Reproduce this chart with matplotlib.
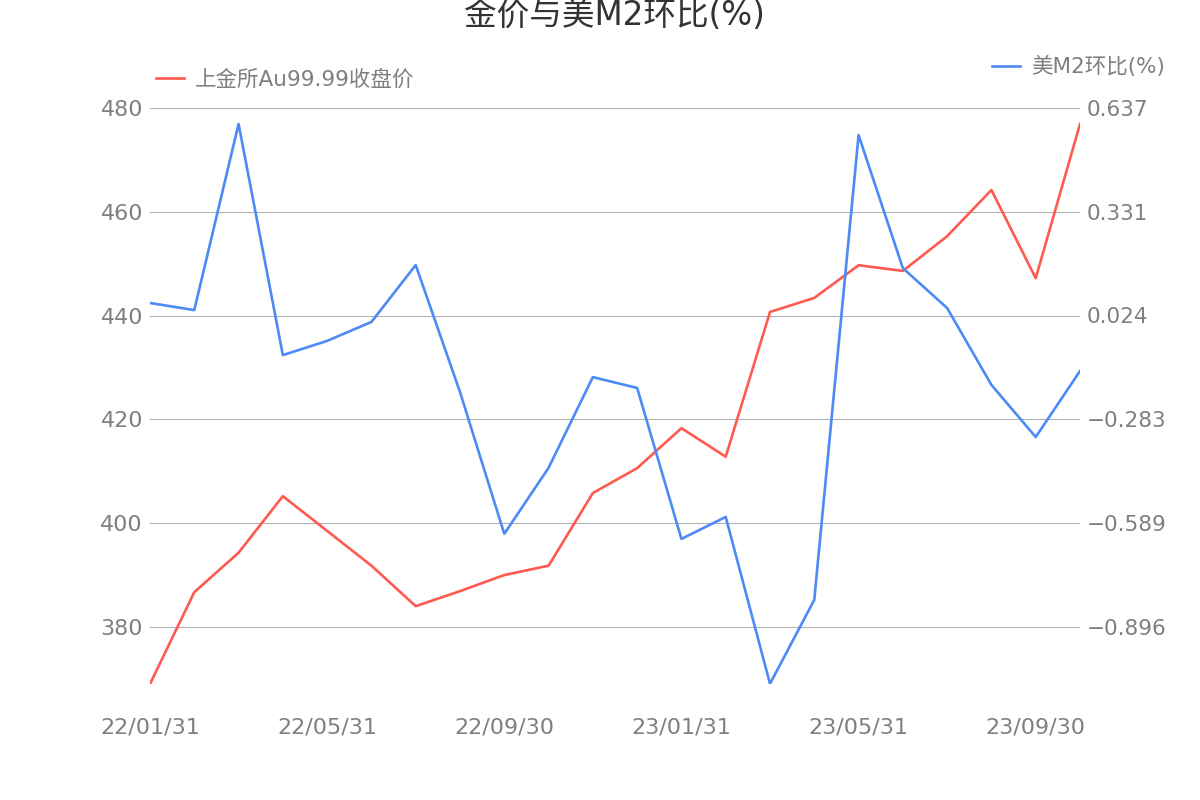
import matplotlib
matplotlib.use("Agg")
import matplotlib.pyplot as plt

# ==============================================================
# Datos (lectura aproximada del gráfico)
# ==============================================================
tick_labels = ["22/01/31", "22/05/31", "22/09/30", "23/01/31", "23/05/31", "23/09/30"]
tick_index = [0, 4, 8, 12, 16, 20]

gold_price = [369.0, 386.7, 394.3, 405.2, 398.5, 391.8, 384.0, 386.9, 390.0, 391.8,
              405.8, 410.6, 418.3, 412.8, 440.7, 443.4, 449.7, 448.6, 455.3, 464.2,
              447.2, 476.9]
m2_mom = [0.061, 0.040, 0.590, -0.093, -0.051, 0.005, 0.173, -0.202, -0.621, -0.426,
          -0.158, -0.190, -0.636, -0.571, -1.064, -0.816, 0.557, 0.164, 0.046, -0.181,
          -0.335, -0.140]
right_ticks = [0.637, 0.331, 0.024, -0.283, -0.589, -0.896]
left_ticks = [380, 400, 420, 440, 460, 480]

red = "#ff5a4f"
blue = "#4d8af5"
gray = "#7f7f7f"
cjk = ["DejaVu Sans", "Noto Sans CJK SC"]

# ==============================================================
# Figura
# ==============================================================
fig = plt.figure(figsize=(12, 8), dpi=100)
ax = fig.add_axes([0.125, 0.145, 0.775, 0.72])
ax2 = ax.twinx()

x = list(range(len(gold_price)))
(l1,) = ax.plot(x, gold_price, color=red, lw=1.9, label="上金所Au99.99收盘价")
(l2,) = ax2.plot(x, m2_mom, color=blue, lw=1.9, label="美M2环比(%)")

ax.set_xlim(0, 21)
ax.set_ylim(369.0, 480)
# eje derecho alineado con la rejilla del izquierdo
scale = (0.637 - (-0.896)) / 100.0
ax2.set_ylim(0.637 - (480 - 369.0) * scale, 0.637)

ax.set_yticks(left_ticks)
ax2.set_yticks(right_ticks)
ax2.set_yticklabels([f"{v:.3f}".replace("-", "\u2212") for v in right_ticks])
ax.set_xticks(tick_index)
ax.set_xticklabels(tick_labels)

ax.grid(axis="y", color="#b3b3b3", lw=0.8)
ax.set_axisbelow(True)
for a in (ax, ax2):
    for s in a.spines.values():
        s.set_visible(False)
ax.tick_params(axis="y", length=0, pad=5, labelsize=16, labelcolor=gray)
ax.tick_params(axis="x", length=0, pad=24, labelsize=16, labelcolor=gray)
ax2.tick_params(axis="y", length=0, pad=4.5, labelsize=15.5, labelcolor=gray)

fig.text(0.512, 0.981, "金价与美M2环比(%)", ha="center", va="center",
         fontsize=23.5, color="#333333", family=cjk)

leg1 = fig.legend(handles=[l1], loc="center left", bbox_to_anchor=(0.13, 0.9005),
                  frameon=False, borderpad=0, borderaxespad=0, handlelength=1.3,
                  handletextpad=0.5, prop={"family": cjk, "size": 15.5})
leg2 = fig.legend(handles=[l2], loc="center left", bbox_to_anchor=(0.827, 0.9165),
                  frameon=False, borderpad=0, borderaxespad=0, handlelength=1.3,
                  handletextpad=0.5, prop={"family": cjk, "size": 15.5})
for leg in (leg1, leg2):
    for t in leg.get_texts():
        t.set_color(gray)

fig.savefig("out.png", dpi=100)
